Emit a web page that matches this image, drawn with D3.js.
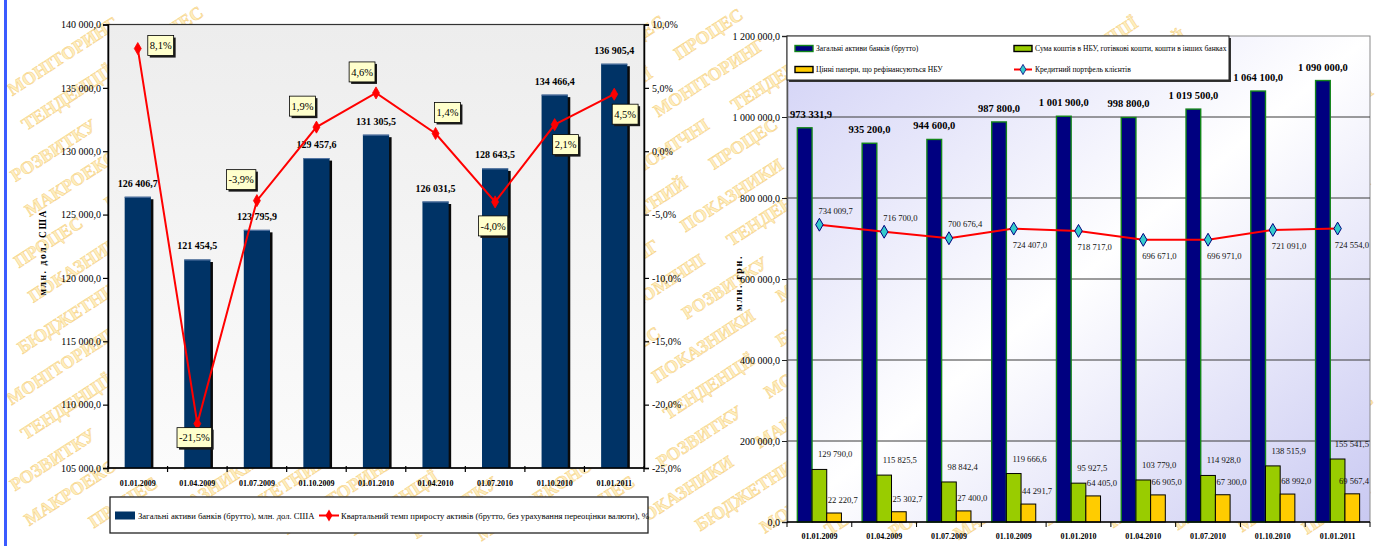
<!DOCTYPE html>
<html><head><meta charset="utf-8">
<script src="https://cdn.jsdelivr.net/npm/d3@7"></script>
<style>
body{margin:0;background:#fff;overflow:hidden;}
svg{display:block;}
text{font-family:"Liberation Serif","Times New Roman",serif;}
</style>
</head><body>
<svg id="c" width="1382" height="546"></svg>
<script>
// ---------------- DATA ----------------
const dates = ["01.01.2009","01.04.2009","01.07.2009","01.10.2009","01.01.2010","01.04.2010","01.07.2010","01.10.2010","01.01.2011"];
// left chart
const assetsUsd = [126406.7,121454.5,123795.9,129457.6,131305.5,126031.5,128643.5,134466.4,136905.4];
const growthPct = [8.1,-21.5,-3.9,1.9,4.6,1.4,-4.0,2.1,4.5];
const growthLabelPlace = ["R","B0","UL","UL","UL","UR","B","BR","BR"];
const usdTicks = [105000,110000,115000,120000,125000,130000,135000,140000];
const pctTicks = [-25,-20,-15,-10,-5,0,5,10];
const leftSeriesNames = ["Загальні активи банків (брутто), млн. дол. США",
  "Квартальний темп приросту активів (брутто, без урахування переоцінки валюти), %"];
const leftAxisTitle = "млн. дол. США";
// right chart
const assetsUah = [973331.9,935200.0,944600.0,987800.0,1001900.0,998800.0,1019500.0,1064100.0,1090000.0];
const cashUah = [129790.0,115825.5,98842.4,119666.6,95927.5,103779.0,114928.0,138515.9,155541.5];
const securitiesUah = [22220.7,25302.7,27400.0,44291.7,64405.0,66905.0,67300.0,68992.0,69567.4];
const creditUah = [734009.7,716700.0,700676.4,724407.0,718717.0,696671.0,696971.0,721091.0,724554.0];
const creditLabelPlace = ["above","above","above","below","below","below","below","below","below"];
const uahTicks = [0,200000,400000,600000,800000,1000000,1200000];
const rightSeriesNames = ["Загальні активи банків (брутто)",
  "Сума коштів в НБУ, готівкові кошти, кошти в інших банках",
  "Цінні папери, що рефінансуються НБУ",
  "Кредитний портфель клієнтів"];
const rightAxisTitle = "млн. грн.";
const watermarkWords = ["МОНІТОРИНГ","ПОКАЗНИКИ","МАКРОЕКОНОМІЧНІ","ТЕНДЕНЦІЇ","БЮДЖЕТНИЙ","ПРОЦЕС","РОЗВИТКУ"];

// ---------------- HELPERS ----------------
const loc = d3.formatLocale({decimal:",", thousands:" ", grouping:[3], currency:["",""], minus:"-"});
const fmt1 = loc.format(",.1f");
const fmtPct = v => loc.format(".1f")(v) + "%";
const FONT = "Liberation Serif, Times New Roman, serif";
const W = 1382, H = 546;

const svg = d3.select("#c");
const defs = svg.append("defs");

// ---------------- WATERMARK (whole words only, kept inside the page) ----------------
const ang = -33 * Math.PI / 180, cx = W/2, cy = H/2;
const toPage = (x, y) => [cx + (x-cx)*Math.cos(ang) - (y-cy)*Math.sin(ang), cy + (x-cx)*Math.sin(ang) + (y-cy)*Math.cos(ang)];
const wm = svg.append("g").attr("transform",`rotate(-33 ${cx} ${cy})`);
const fits = (x, y, w) => [[x, y-14],[x+w, y-14],[x, y+4],[x+w, y+4]]
  .map(p => toPage(p[0], p[1])).every(p => p[0] >= 1 && p[0] <= W-1 && p[1] >= 1 && p[1] <= H-1);
for (let r = -18; r <= 18; r++) {
  let x = -300 - ((((r * 97) % 150) + 150) % 150);
  const y = cy + r * 37;
  let k = ((r * 3) % 7 + 7) % 7;
  while (x < W + 300) {
    let placed = false, adv = 30;
    for (let tries = 0; tries < 7 && !placed; tries++) {
      const word = watermarkWords[(k + tries) % 7];
      const t = wm.append("text").attr("x", x).attr("y", y)
        .attr("font-size", 18).attr("font-weight","bold")
        .attr("fill","#feeebf").attr("stroke","#f6d284").attr("stroke-width",0.5)
        .text(word);
      const w = t.node().getComputedTextLength();
      if (fits(x, y, w)) { placed = true; adv = w + 30; k = k + tries + 1; }
      else t.remove();
    }
    x += adv;
  }
}

// left blue page stripe
svg.append("rect").attr("x",4).attr("y",0).attr("width",3).attr("height",546).attr("fill","#3b5bff");

// ================= LEFT CHART =================
const L = {x0:108, x1:644, y0:24.5, y1:468};
const xL = d3.scaleBand().domain(dates).range([L.x0, L.x1]);
const bwL = xL.bandwidth();
const barWL = bwL * 0.44;
const yL = d3.scaleLinear().domain([d3.min(usdTicks), d3.max(usdTicks)]).range([L.y1, L.y0]);
const yP = d3.scaleLinear().domain([d3.min(pctTicks), d3.max(pctTicks)]).range([L.y1, L.y0]);

const gL = defs.append("linearGradient").attr("id","gradL").attr("x1",0).attr("y1",0).attr("x2",0).attr("y2",1);
gL.append("stop").attr("offset",0).attr("stop-color","#ededed");
gL.append("stop").attr("offset",1).attr("stop-color","#fbfbfb");

const left = svg.append("g");
left.append("rect").attr("x",L.x0).attr("y",L.y0).attr("width",L.x1-L.x0).attr("height",L.y1-L.y0)
  .attr("fill","url(#gradL)").attr("stroke","#333").attr("stroke-width",1.2);

// bars
const barG = left.append("g");
dates.forEach((d,i) => {
  const x = xL(d) + (bwL - barWL) / 2;
  const y = yL(assetsUsd[i]);
  barG.append("rect").attr("x",x+2.5).attr("y",y+2.5).attr("width",barWL).attr("height",L.y1-y-2.5).attr("fill","#0a0a0a");
  barG.append("rect").attr("x",x).attr("y",y).attr("width",barWL).attr("height",L.y1-y).attr("fill","#003366");
  barG.append("line").attr("x1",x).attr("x2",x+barWL).attr("y1",y+0.5).attr("y2",y+0.5).attr("stroke","#5a7aa8").attr("stroke-width",1);
  barG.append("text").attr("x",x+barWL/2).attr("y",y-10).attr("text-anchor","middle")
    .attr("font-size",10).attr("font-weight","bold").attr("fill","#000").text(fmt1(assetsUsd[i]));
});

// axes
const axLeft = left.append("g").attr("transform",`translate(${L.x0},0)`)
  .call(d3.axisLeft(yL).tickValues(usdTicks).tickFormat(fmt1).tickSize(5).tickPadding(2));
const axRight = left.append("g").attr("transform",`translate(${L.x1},0)`)
  .call(d3.axisRight(yP).tickValues(pctTicks).tickFormat(fmtPct).tickSize(5).tickPadding(3));
[axLeft, axRight].forEach(a => {
  a.attr("font-family",FONT).attr("font-size",10);
  a.select(".domain").attr("stroke","#000").attr("stroke-width",1.5);
  a.selectAll(".tick line").attr("stroke","#000").attr("stroke-width",1.2);
  a.selectAll(".tick text").attr("fill","#000");
});
left.append("line").attr("x1",L.x0).attr("x2",L.x1).attr("y1",L.y1).attr("y2",L.y1).attr("stroke","#000").attr("stroke-width",1.5);
d3.range(dates.length + 1).forEach(k => {
  const x = L.x0 + k * xL.step();
  left.append("line").attr("x1",x).attr("x2",x).attr("y1",L.y1-2).attr("y2",L.y1+4).attr("stroke","#000").attr("stroke-width",1.2);
});
left.append("g").selectAll("text").data(dates).join("text")
  .attr("x", d => xL(d) + bwL/2).attr("y", L.y1 + 18).attr("text-anchor","middle")
  .attr("font-size",8).attr("font-weight","bold").attr("fill","#000").text(d => d);

// y title
left.append("text").attr("transform",`translate(46,${(L.y0+L.y1)/2 + 6}) rotate(-90)`)
  .attr("text-anchor","middle").attr("font-size",9.5).attr("font-weight","bold")
  .attr("letter-spacing",1.6).text(leftAxisTitle);

// growth line
const pts = dates.map((d,i) => [xL(d) + bwL/2, yP(growthPct[i])]);
left.append("path").attr("d", d3.line()(pts)).attr("fill","none").attr("stroke","#ff0000").attr("stroke-width",2);
left.append("g").selectAll("path").data(pts).join("path")
  .attr("transform", p => `translate(${p[0]},${p[1]})`)
  .attr("d", d3.symbol(d3.symbolDiamond, 42)()).attr("fill","#ff0000").attr("stroke","#ff0000").attr("stroke-width",0.8);

// growth labels in boxes
const lblG = left.append("g");
pts.forEach((p,i) => {
  const g = lblG.append("g");
  const t = g.append("text").attr("font-size",10.5).attr("fill","#000").text(fmtPct(growthPct[i]));
  const tw = t.node().getComputedTextLength();
  const w = tw + 4, h = 20;
  const [px, py] = p;
  let bx, by;
  switch (growthLabelPlace[i]) {
    case "R":  bx = px + 10;        by = py - 13; break;
    case "B0": bx = px - w/2 - 3;   by = py + 4;  break;
    case "UL": bx = px - w - 1;     by = py - 31; break;
    case "UR": bx = px - 1;         by = py - 31; break;
    case "B":  bx = px - w/2 - 2;   by = py + 14; break;
    default:   bx = px - 2;         by = py + 10; break;
  }
  g.insert("rect","text").attr("x",bx+2).attr("y",by+2).attr("width",w).attr("height",h).attr("fill","#1a1a1a");
  g.insert("rect","text").attr("x",bx).attr("y",by).attr("width",w).attr("height",h).attr("fill","#ffffcc").attr("stroke","#000").attr("stroke-width",0.8);
  t.attr("x", bx + w/2).attr("y", by + h/2 + 3.6).attr("text-anchor","middle");
});

// legend
const lgL = left.append("g");
lgL.append("rect").attr("x",110).attr("y",497).attr("width",538).attr("height",36).attr("fill","#fff").attr("stroke","#222").attr("stroke-width",1.3);
lgL.append("rect").attr("x",115).attr("y",511.5).attr("width",20).attr("height",8).attr("fill","#003366");
lgL.append("text").attr("x",138).attr("y",518.5).attr("font-size",8.6).attr("fill","#000").text(leftSeriesNames[0]);
lgL.append("line").attr("x1",319).attr("x2",339).attr("y1",515.5).attr("y2",515.5).attr("stroke","#ff0000").attr("stroke-width",2);
lgL.append("path").attr("transform","translate(329,515.5)").attr("d", d3.symbol(d3.symbolDiamond, 42)()).attr("fill","#ff0000");
lgL.append("text").attr("x",341).attr("y",518.5).attr("font-size",8.6).attr("fill","#000").text(leftSeriesNames[1]);

// ================= RIGHT CHART =================
const R = {x0:787, x1:1370, y0:36, y1:522};
const xR = d3.scaleBand().domain(dates).range([R.x0, R.x1]);
const bwR = xR.bandwidth();
const xIn = d3.scaleBand().domain(["a","c","s"]).range([0, bwR]).paddingInner(0).paddingOuter(0.705);
const yR = d3.scaleLinear().domain([d3.min(uahTicks), d3.max(uahTicks)]).range([R.y1, R.y0]);

const gR = defs.append("linearGradient").attr("id","gradR").attr("x1",0).attr("y1",0).attr("x2",1).attr("y2",1);
gR.append("stop").attr("offset",0).attr("stop-color","#d2d2f6");
gR.append("stop").attr("offset",0.5).attr("stop-color","#ffffff");
gR.append("stop").attr("offset",1).attr("stop-color","#c9c9f2");

const right = svg.append("g");
right.append("rect").attr("x",R.x0).attr("y",R.y0).attr("width",R.x1-R.x0).attr("height",R.y1-R.y0)
  .attr("fill","url(#gradR)").attr("stroke","#8a8a8a").attr("stroke-width",1);

// gridlines
right.append("g").selectAll("line").data(uahTicks.filter(v => v > 0 && v < d3.max(uahTicks))).join("line")
  .attr("x1",R.x0).attr("x2",R.x1).attr("y1",d => yR(d)).attr("y2",d => yR(d))
  .attr("stroke","#3a3a3a").attr("stroke-width",1);

// y axis
const axR = right.append("g").attr("transform",`translate(${R.x0},0)`)
  .call(d3.axisLeft(yR).tickValues(uahTicks).tickFormat(fmt1).tickSize(5).tickPadding(2));
axR.attr("font-family",FONT).attr("font-size",10);
axR.select(".domain").attr("stroke","#555").attr("stroke-width",1.5);
axR.selectAll(".tick line").attr("stroke","#222");
axR.selectAll(".tick text").attr("fill","#000");

right.append("text").attr("transform",`translate(742,283) rotate(-90)`)
  .attr("text-anchor","middle").attr("font-size",10).attr("font-weight","bold")
  .attr("letter-spacing",1.6).text(rightAxisTitle);

// bars
const barsR = right.append("g");
dates.forEach((d,i) => {
  const bx = xR(d);
  const w = xIn.bandwidth();
  const xa = bx + xIn("a"), xc = bx + xIn("c"), xs = bx + xIn("s");
  const ya = yR(assetsUah[i]), yc = yR(cashUah[i]), ys = yR(securitiesUah[i]);
  barsR.append("rect").attr("x",xa).attr("y",ya).attr("width",w).attr("height",R.y1-ya)
    .attr("fill","#000080").attr("stroke","#13861a").attr("stroke-width",1.4);
  barsR.append("rect").attr("x",xc).attr("y",yc).attr("width",w).attr("height",R.y1-yc)
    .attr("fill","#99cc00").attr("stroke","#000").attr("stroke-width",1);
  barsR.append("rect").attr("x",xs).attr("y",ys).attr("width",w).attr("height",R.y1-ys)
    .attr("fill","#ffcc00").attr("stroke","#000").attr("stroke-width",1);
});

// x axis
right.append("line").attr("x1",R.x0).attr("x2",R.x1).attr("y1",R.y1).attr("y2",R.y1).attr("stroke","#000").attr("stroke-width",1.5);
d3.range(dates.length + 1).forEach(k => {
  const x = R.x0 + k * xR.step();
  right.append("line").attr("x1",x).attr("x2",x).attr("y1",R.y1).attr("y2",R.y1+5).attr("stroke","#000").attr("stroke-width",1);
});
right.append("g").selectAll("text").data(dates).join("text")
  .attr("x", d => xR(d) + bwR/2).attr("y", R.y1 + 17).attr("text-anchor","middle")
  .attr("font-size",8).attr("font-weight","bold").attr("fill","#000").text(d => d);

// credit line
const cpts = dates.map((d,i) => [xR(d) + bwR/2, yR(creditUah[i])]);
right.append("path").attr("d", d3.line()(cpts)).attr("fill","none").attr("stroke","#ff0000").attr("stroke-width",2);
right.append("g").selectAll("path").data(cpts).join("path")
  .attr("transform", p => `translate(${p[0]},${p[1]})`)
  .attr("d", d3.symbol(d3.symbolDiamond, 48)()).attr("fill","#33cccc").attr("stroke","#000080").attr("stroke-width",1);

// value labels (clamped inside plot)
const lblR = right.append("g");
function placeStart(x, y, txt, opts) {
  const t = lblR.append("text").attr("x",x).attr("y",y).attr("font-size",opts.size)
    .attr("font-weight",opts.bold ? "bold" : "normal").attr("fill", opts.color || "#000").text(txt);
  const tw = t.node().getComputedTextLength();
  let sx = opts.anchor === "middle" ? x - tw/2 : x;
  if (sx + tw > R.x1 - 1) sx = R.x1 - 1 - tw;
  if (sx < R.x0 + 3) sx = R.x0 + 3;
  t.attr("x", sx);
}
dates.forEach((d,i) => {
  const bx = xR(d), w = xIn.bandwidth();
  placeStart(bx + xIn("a") + w/2, yR(assetsUah[i]) - 10, fmt1(assetsUah[i]), {size:10.5, bold:true, anchor:"middle"});
  placeStart(bx + xIn("c") + 6, yR(cashUah[i]) - 12, fmt1(cashUah[i]), {size:8.6, color:"#111"});
  placeStart(bx + xIn("s") + 1, yR(securitiesUah[i]) - 10, fmt1(securitiesUah[i]), {size:8.6, color:"#111"});
  const [px, py] = cpts[i];
  placeStart(px - 1, creditLabelPlace[i] === "above" ? py - 11 : py + 19, fmt1(creditUah[i]), {size:8.6, color:"#111"});
});

// legend
const lgR = right.append("g");
lgR.append("rect").attr("x",R.x0+2).attr("y",R.y0+2).attr("width",442).attr("height",44).attr("fill","#333");
lgR.append("rect").attr("x",R.x0).attr("y",R.y0).attr("width",442).attr("height",44).attr("fill","#fff").attr("stroke","#222").attr("stroke-width",1);
const sw = [
  {x:795, y:48.5, fill:"#000080", stroke:"#13861a", name:rightSeriesNames[0]},
  {x:1014, y:48.5, fill:"#99cc00", stroke:"#000", name:rightSeriesNames[1]},
  {x:795, y:69.5, fill:"#ffcc00", stroke:"#000", name:rightSeriesNames[2]}
];
sw.forEach(s => {
  lgR.append("rect").attr("x",s.x).attr("y",s.y-3).attr("width",18).attr("height",6)
    .attr("fill",s.fill).attr("stroke",s.stroke).attr("stroke-width",1.4);
  lgR.append("text").attr("x",s.x+21).attr("y",s.y+2.6).attr("font-size",7.6).attr("fill","#000").text(s.name);
});
lgR.append("line").attr("x1",1014).attr("x2",1032).attr("y1",69.5).attr("y2",69.5).attr("stroke","#ff0000").attr("stroke-width",2);
lgR.append("path").attr("transform","translate(1023,69.5)").attr("d", d3.symbol(d3.symbolDiamond, 30)())
  .attr("fill","#33cccc").attr("stroke","#000080").attr("stroke-width",0.8);
lgR.append("text").attr("x",1035).attr("y",72.1).attr("font-size",7.6).attr("fill","#000").text(rightSeriesNames[3]);
</script>
</body></html>
